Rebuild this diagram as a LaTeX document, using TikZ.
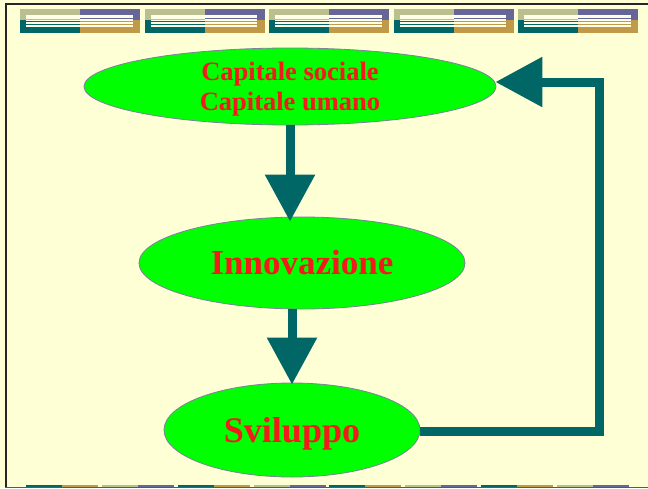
\documentclass[tikz,border=0pt]{standalone}
\usepackage{fontspec}
\setmainfont{Liberation Serif}
\usetikzlibrary{arrows.meta,shapes.geometric}
\definecolor{bgc}{HTML}{FFFFD6}
\definecolor{teal}{HTML}{006666}
\definecolor{khaki}{HTML}{BBBF8F}
\definecolor{purp}{HTML}{666699}
\definecolor{gold}{HTML}{C09A48}
\definecolor{edgec}{HTML}{7F7FA0}
\definecolor{txtred}{HTML}{F21A1A}
\tikzset{
  bubble/.style={ellipse, draw=edgec, line width=0.8pt, fill={rgb,255:red,0;green,255;blue,0},
    inner sep=0pt, text=txtred, font=\bfseries, align=center},
  flow/.style={draw=teal, line width=9pt, -{Triangle[length=47pt,width=48pt]}},
}
\begin{document}
\begin{tikzpicture}[x=1pt,y=-1pt]
\useasboundingbox (0,0) rectangle (648,488);
\fill[bgc] (0,0) rectangle (648,488);
% frame
\fill[black!85] (5,3.3) rectangle (648,5.3);
\fill[black!85] (5,3.3) rectangle (7,488);
\fill[black!65] (5,487) rectangle (648,488);
% top tiles
\foreach \x in {20,144.5,269,393.5,518}{
  \fill[khaki] (\x,9) rectangle ++(60,11);
  \fill[purp] (\x+60,9) rectangle ++(60,10.5);
  \fill[teal] (\x,20) rectangle ++(60,13);
  \fill[gold] (\x+60,19.5) rectangle ++(60,13.5);
  \fill[bgc!60!white] (\x+6,15) rectangle (\x+112.5,26.8);
  \fill[white] (\x+6,15) rectangle (\x+112.5,16);
  \fill[khaki] (\x+6,18.6) rectangle (\x+60,19.4);
  \fill[purp] (\x+60,18.4) rectangle (\x+112.5,19.2);
  \fill[teal] (\x+6,21.2) rectangle (\x+60,22.2);
  \fill[gold] (\x+60,21.2) rectangle (\x+112.5,22.2);
  \fill[teal] (\x+6,24.2) rectangle (\x+60,25.1);
  \fill[gold] (\x+60,24.2) rectangle (\x+112.5,25.1);
}
% bottom bars
\foreach \x/\ca/\cb in {26/teal/gold,102/khaki/purp,178/teal/gold,254/khaki/purp,329/teal/gold,405/khaki/purp,481/teal/gold,557/khaki/purp}{
  \fill[\ca] (\x,485) rectangle ++(36,2);
  \fill[\cb] (\x+36,485) rectangle ++(35.5,2);
}
% nodes
\node[bubble, minimum width=412pt, minimum height=77pt, font=\bfseries\fontsize{26.5}{30}\selectfont] (e1) at (290,86.5) {\raisebox{-23.5pt}[0pt][0pt]{\begin{tabular}[b]{@{}c@{}}Capitale sociale\\Capitale umano\end{tabular}}};
\node[bubble, minimum width=326pt, minimum height=92pt, font=\bfseries\fontsize{35}{40}\selectfont] (e2) at (302,263) {\raisebox{-11pt}[0pt][0pt]{Innovazione}};
\node[bubble, minimum width=256pt, minimum height=94pt, font=\bfseries\fontsize{36}{40}\selectfont] (e3) at (292,430) {\raisebox{-12pt}[0pt][0pt]{Sviluppo}};
% connectors
\coordinate (c1) at (599.5,431);
\coordinate (c2) at (599.5,82);
\draw[flow, shorten >=-5pt] (e1.south) -- (e1.south |- e2.north);
\draw[flow, shorten >=-2pt] (e3.north |- e2.south) -- (e3.north);
\draw[flow, line join=miter, shorten >=-1pt] (e3.east |- c1) -- (c1) -- (c2) -- (c2 -| e1.east);
\end{tikzpicture}
\end{document}
